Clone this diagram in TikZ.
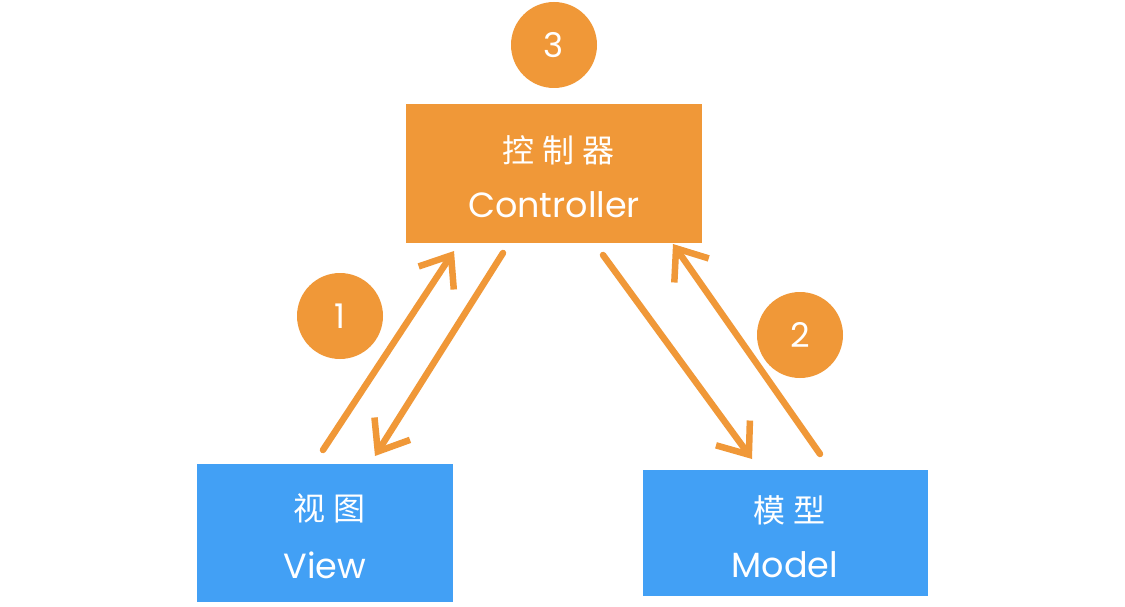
\documentclass[tikz,border=0pt]{standalone}
\usepackage{fontspec}
\setmainfont{Poppins}
\newfontfamily\cjk[LetterSpace=25]{Noto Sans CJK SC}
\usetikzlibrary{arrows.meta}
\definecolor{orng}{RGB}{240,152,56}
\definecolor{blu}{RGB}{66,160,245}
\tikzset{
  obox/.style={fill=orng, draw=none, minimum width=296pt, minimum height=139pt, inner sep=0pt},
  bbox/.style={fill=blu, draw=none, inner sep=0pt},
  numc/.style={circle, fill=orng, draw=none, minimum size=86pt, inner sep=0pt, text=white, font=\fontsize{34}{36}\selectfont},
  lbl/.style={text=white, inner sep=0pt, anchor=center},
  cjkl/.style={lbl, font=\cjk\fontsize{32}{34}\selectfont},
  latl/.style={lbl, font=\fontsize{35}{37}\selectfont},
  conn/.style={draw=orng, line width=6.5pt, line cap=round, -{Straight Barb[length=27pt,width=42pt,line width=6.5pt]}}
}
\begin{document}
\begin{tikzpicture}[x=1pt,y=-1pt]
\useasboundingbox (0,0) rectangle (1125,607);
\fill[white] (0,0) rectangle (1125,607);
% boxes
\node[obox] (ctrl) at (554,173.5) {};
\node[bbox, minimum width=256pt, minimum height=138pt] (view) at (325,533) {};
\node[bbox, minimum width=285pt, minimum height=126pt] (model) at (785.5,533) {};
% labels
\node[cjkl] (ctrlzh) at (558,150) {控制器};
\node[latl] (ctrlen) at (554,205) {Controller};
\node[cjkl] (viewzh) at (329,508) {视图};
\node[latl] (viewen) at (325,565) {View};
\node[cjkl] (modelzh) at (789,510) {模型};
\node[latl] (modelen) at (785,565) {Model};
% circles
\node[numc] (c3) at (554,45) {3};
\node[numc] (c1) at (340,316) {1};
\node[numc] (c2) at (800,335) {2};
% arrow endpoints
\coordinate (vuS) at (323,450);
\coordinate (vuE) at (454,251);
\coordinate (vdS) at (503,253);
\coordinate (vdE) at (375,456);
\coordinate (mdS) at (603,255);
\coordinate (mdE) at (752,459);
\coordinate (muS) at (820,454);
\coordinate (muE) at (673,244);
\draw[conn] (vuS) -- (vuE);
\draw[conn] (vdS) -- (vdE);
\draw[conn] (mdS) -- (mdE);
\draw[conn] (muS) -- (muE);
\end{tikzpicture}
\end{document}
